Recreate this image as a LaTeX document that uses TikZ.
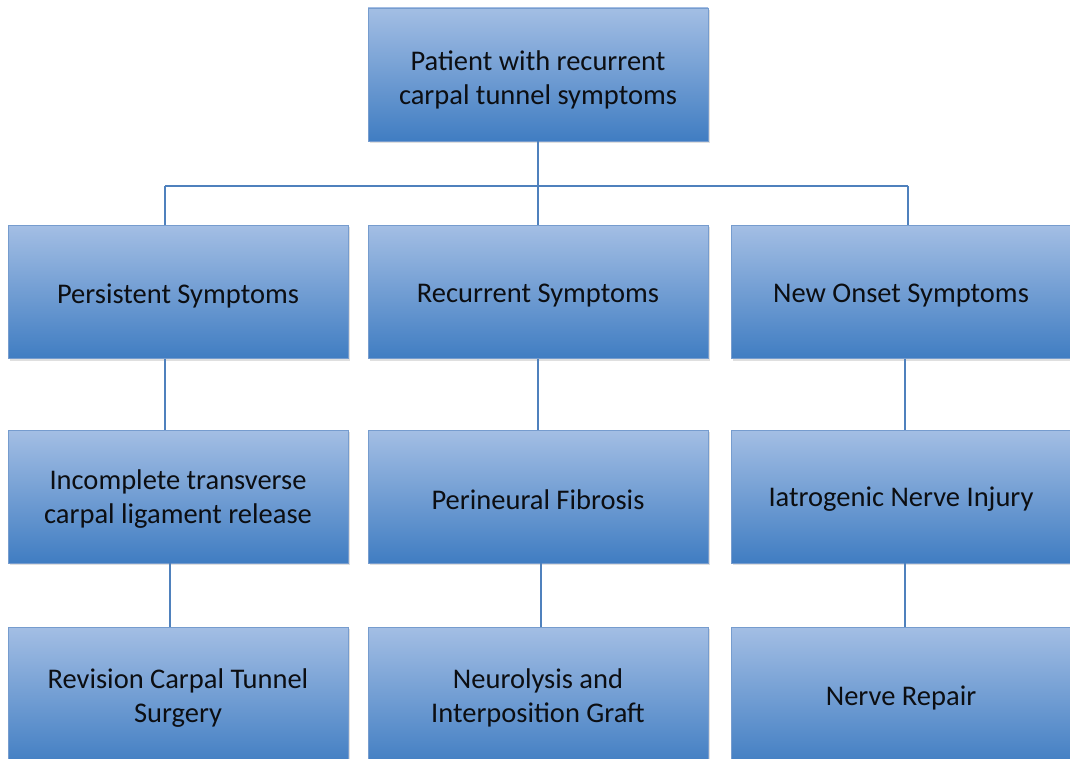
\documentclass[tikz,border=0pt]{standalone}
\usepackage{fontspec}
\setmainfont{Carlito}
\usetikzlibrary{shadows}
\definecolor{boxtop}{RGB}{163,190,228}
\definecolor{boxbot}{RGB}{64,125,194}
\definecolor{boxline}{RGB}{118,156,206}
\definecolor{conn}{RGB}{79,129,189}
\definecolor{txt}{RGB}{12,14,18}
\tikzset{
  box/.style={rectangle, draw=boxline, line width=0.8pt, top color=boxtop, bottom color=boxbot,
    minimum width=340pt, minimum height=133pt, inner sep=0pt,
    drop shadow={shadow xshift=1.5pt, shadow yshift=-2pt, opacity=0.25}},
  lbl/.style={align=center, inner sep=0pt, font=\fontsize{28.5}{34}\selectfont, text=txt},
  conn/.style={draw=conn, line width=2.9pt}
}
\begin{document}
\begin{tikzpicture}[x=1pt,y=-1pt]
\useasboundingbox (0,0) rectangle (1070,759);
\node[box] (top) at (538,74.5) {};
\node[box] (p) at (178,292) {};
\node[box] (r) at (538,292) {};
\node[box] (n) at (901,292) {};
\node[box] (p2) at (178,496.5) {};
\node[box] (r2) at (538,496.5) {};
\node[box] (n2) at (901,496.5) {};
\node[box, minimum height=140pt] (p3) at (178,697) {};
\node[box, minimum height=140pt] (r3) at (538,697) {};
\node[box, minimum height=140pt] (n3) at (901,697) {};
\node[lbl] (top-t) at ([yshift=-5pt]top.center) {Patient with recurrent\\carpal tunnel symptoms};
\node[lbl] (p-t) at ([yshift=-4pt]p.center) {Persistent Symptoms};
\node[lbl] (r-t) at ([yshift=-4pt]r.center) {Recurrent Symptoms};
\node[lbl] (n-t) at ([yshift=-4pt]n.center) {New Onset Symptoms};
\node[lbl] (p2-t) at ([yshift=-3pt]p2.center) {Incomplete transverse\\carpal ligament release};
\node[lbl] (r2-t) at ([yshift=-3pt]r2.center) {Perineural Fibrosis};
\node[lbl] (n2-t) at ([yshift=-3pt]n2.center) {Iatrogenic Nerve Injury};
\node[lbl] (p3-t) at ([yshift=-1pt]p3.center) {Revision Carpal Tunnel\\Surgery};
\node[lbl] (r3-t) at ([yshift=-1pt]r3.center) {Neurolysis and\\Interposition Graft};
\node[lbl] (n3-t) at ([yshift=-1pt]n3.center) {Nerve Repair};
\coordinate (j) at (538,186);
\coordinate (jl) at (165,186);
\coordinate (jr) at (908,186);
\draw[conn] (top.south) -- (j);
\draw[conn] (jl) -- (jr);
\draw[conn] (jl) -- (jl |- p.north);
\draw[conn] (j) -- (r.north);
\draw[conn] (jr) -- (jr |- n.north);
\draw[conn] (p.south -| jl) -- (p2.north -| jl);
\draw[conn] (r.south) -- (r2.north);
\draw[conn] ([xshift=4pt]n.south) -- ([xshift=4pt]n2.north);
\draw[conn] ([xshift=-8pt]p2.south) -- ([xshift=-8pt]p3.north);
\draw[conn] ([xshift=3pt]r2.south) -- ([xshift=3pt]r3.north);
\draw[conn] ([xshift=4pt]n2.south) -- ([xshift=4pt]n3.north);
\end{tikzpicture}
\end{document}
